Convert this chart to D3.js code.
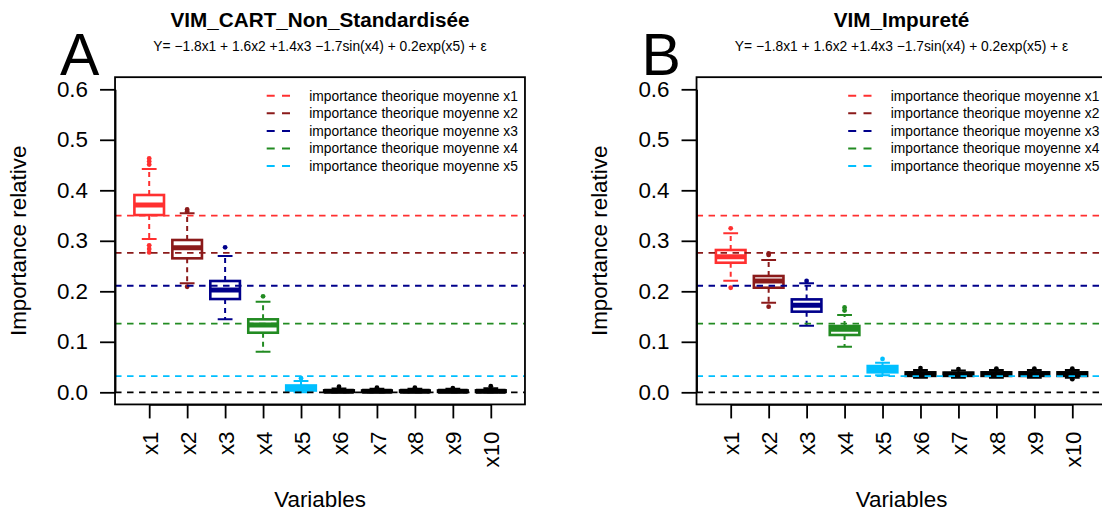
<!DOCTYPE html>
<html>
<head>
<meta charset="utf-8">
<script src="https://cdn.jsdelivr.net/npm/d3@7"></script>
<style>
  html, body { margin: 0; padding: 0; background: #fff; }
  svg { display: block; font-family: "Liberation Sans", Arial, Helvetica, sans-serif; }
</style>
</head>
<body>
<svg id="chart" width="1102" height="514"></svg>
<script>
// Variables on the x axis and y-axis tick values
const variables = ["x1", "x2", "x3", "x4", "x5", "x6", "x7", "x8", "x9", "x10"];
const yTicks = [0, 0.1, 0.2, 0.3, 0.4, 0.5, 0.6];

// Theoretical mean importance of x1..x5 (dashed reference lines), plus the zero line
const theoImportance = [0.35, 0.276, 0.211, 0.136, 0.032];
const theoColors = ["#FF3030", "#8B1A1A", "#00008B", "#228B22", "#00BFFF"];
const legendLabels = [
  "importance theorique moyenne x1",
  "importance theorique moyenne x2",
  "importance theorique moyenne x3",
  "importance theorique moyenne x4",
  "importance theorique moyenne x5"
];
// Box colours per variable (noise variables x6..x10 in black)
const boxColors = ["#FF3030", "#8B1A1A", "#00008B", "#228B22", "#00BFFF",
                   "#000000", "#000000", "#000000", "#000000", "#000000"];

const modelFormula = "Y= \u22121.8x1 + 1.6x2 +1.4x3 \u22121.7sin(x4) + 0.2exp(x5) + \u03b5";

// Panel A : VIM CART, non standardised
const cartLow  = [0.3036, 0.2158, 0.1445, 0.0805, 0.0000, 0.0000, 0.0000, 0.0000, 0.0000, 0.0000];
const cartQ1   = [0.3510, 0.2653, 0.1847, 0.1180, 0.0035, 0.0008, 0.0008, 0.0008, 0.0008, 0.0008];
const cartMed  = [0.3710, 0.2864, 0.2026, 0.1333, 0.0085, 0.0020, 0.0020, 0.0020, 0.0020, 0.0020];
const cartQ3   = [0.3907, 0.3016, 0.2204, 0.1445, 0.0135, 0.0038, 0.0036, 0.0036, 0.0036, 0.0038];
const cartHigh = [0.4420, 0.3545, 0.2700, 0.1795, 0.0224, 0.0075, 0.0072, 0.0072, 0.0070, 0.0078];
const cartOut  = [[0.463, 0.457, 0.451, 0.291, 0.284, 0.277], [0.362, 0.358, 0.209], [0.287], [0.190],
                  [0.028], [0.011], [0.009], [0.009], [0.008], [0.012]];

// Panel B : VIM impurity
const impLow  = [0.2210, 0.1775, 0.1320, 0.0903, 0.0337, 0.0290, 0.0290, 0.0290, 0.0290, 0.0290];
const impQ1   = [0.2566, 0.2071, 0.1597, 0.1135, 0.0396, 0.0325, 0.0325, 0.0325, 0.0325, 0.0325];
const impMed  = [0.2686, 0.2204, 0.1723, 0.1248, 0.0455, 0.0360, 0.0355, 0.0360, 0.0360, 0.0360];
const impQ3   = [0.2818, 0.2303, 0.1840, 0.1313, 0.0520, 0.0395, 0.0390, 0.0395, 0.0395, 0.0395];
const impHigh = [0.3148, 0.2620, 0.2158, 0.1530, 0.0587, 0.0440, 0.0430, 0.0440, 0.0440, 0.0440];
const impOut  = [[0.3247, 0.207], [0.275, 0.272, 0.1695], [0.2204], [0.168, 0.162],
                 [0.066], [0.048], [0.046], [0.047], [0.047], [0.047, 0.026]];

const svg = d3.select("#chart");
const AXIS_FONT = 22.4;

function drawPanel(offsetX, letter, title, stats) {
  const g = svg.append("g").attr("transform", `translate(${offsetX},0)`);

  // scales: categories spaced evenly, plot region padded 0.9 step beyond first/last
  const x = d3.scalePoint().domain(variables).range([149.2, 490.8]);
  const step = x.step();
  const left = x(variables[0]) - 0.9 * step;
  const right = x(variables[variables.length - 1]) + 0.9 * step;
  const y = d3.scaleLinear().domain([0, 0.6]).range([392.3, 89.3]);
  const top = y(0.624), bottom = y(-0.024);

  const clipId = "clip" + letter;
  g.append("clipPath").attr("id", clipId)
    .append("rect").attr("x", left).attr("y", top).attr("width", right - left).attr("height", bottom - top);

  // box plots
  const boxW = 0.78 * step;
  const capW = 0.5 * boxW;
  const plot = g.append("g").attr("clip-path", `url(#${clipId})`);
  variables.forEach((v, i) => {
    const cx = x(v), col = boxColors[i];
    const bg = plot.append("g");
    // whiskers (dashed)
    bg.append("line").attr("x1", cx).attr("x2", cx).attr("y1", y(stats.q3[i])).attr("y2", y(stats.high[i]))
      .attr("stroke", col).attr("stroke-width", 2).attr("stroke-dasharray", "5,4");
    bg.append("line").attr("x1", cx).attr("x2", cx).attr("y1", y(stats.q1[i])).attr("y2", y(stats.low[i]))
      .attr("stroke", col).attr("stroke-width", 2).attr("stroke-dasharray", "5,4");
    // staples
    [stats.high[i], stats.low[i]].forEach(val => {
      bg.append("line").attr("x1", cx - capW / 2).attr("x2", cx + capW / 2).attr("y1", y(val)).attr("y2", y(val))
        .attr("stroke", col).attr("stroke-width", 2);
    });
    // box
    bg.append("rect").attr("x", cx - boxW / 2).attr("width", boxW)
      .attr("y", y(stats.q3[i])).attr("height", Math.max(0.5, y(stats.q1[i]) - y(stats.q3[i])))
      .attr("fill", "#fff").attr("stroke", col).attr("stroke-width", 2.6);
    // median
    bg.append("line").attr("x1", cx - boxW / 2).attr("x2", cx + boxW / 2)
      .attr("y1", y(stats.med[i])).attr("y2", y(stats.med[i]))
      .attr("stroke", col).attr("stroke-width", 5);
    // outliers
    bg.selectAll("circle.out").data(stats.out[i]).join("circle").attr("class", "out")
      .attr("cx", cx).attr("cy", d => y(d)).attr("r", 2.4).attr("fill", col);
  });

  // theoretical importance reference lines + zero line
  const refs = theoImportance.map((v, i) => ({ v, c: theoColors[i] })).concat([{ v: 0, c: "#000" }]);
  plot.selectAll("line.ref").data(refs).join("line").attr("class", "ref")
    .attr("x1", left).attr("x2", right).attr("y1", d => y(d.v)).attr("y2", d => y(d.v))
    .attr("stroke", d => d.c).attr("stroke-width", 1.8).attr("stroke-dasharray", "6.5,5.5");

  // frame
  g.append("rect").attr("x", left).attr("y", top).attr("width", right - left).attr("height", bottom - top)
    .attr("fill", "none").attr("stroke", "#000").attr("stroke-width", 1.8);

  // y axis
  const yAxis = d3.axisLeft(y).tickValues(yTicks).tickFormat(d3.format(".1f"))
    .tickSize(15).tickPadding(12).tickSizeOuter(0);
  const ya = g.append("g").attr("transform", `translate(${left},0)`).call(yAxis);
  ya.select(".domain").attr("stroke-width", 1.8);
  ya.selectAll(".tick line").attr("stroke-width", 1.8);
  ya.selectAll(".tick text").attr("font-size", AXIS_FONT).attr("font-family", null).attr("fill", "#000");

  // x axis
  const xAxis = d3.axisBottom(x).tickSize(14).tickPadding(13).tickSizeOuter(0);
  const xa = g.append("g").attr("transform", `translate(0,${bottom})`).call(xAxis);
  xa.select(".domain").attr("stroke-width", 1.8);
  xa.selectAll(".tick line").attr("stroke-width", 1.8);
  xa.selectAll(".tick text").attr("font-size", AXIS_FONT).attr("font-family", null).attr("fill", "#000")
    .attr("transform", "rotate(-90)").attr("text-anchor", "end")
    .attr("x", -27).attr("y", 0).attr("dy", "0.36em");

  // axis titles
  g.append("text").attr("x", (left + right) / 2).attr("y", 507).attr("text-anchor", "middle")
    .attr("font-size", AXIS_FONT).text("Variables");
  g.append("text").attr("transform", `translate(25.5,${(top + bottom) / 2}) rotate(-90)`)
    .attr("text-anchor", "middle").attr("font-size", AXIS_FONT).text("Importance relative");

  // titles
  g.append("text").attr("x", (left + right) / 2).attr("y", 27).attr("text-anchor", "middle")
    .attr("font-size", 20.7).attr("font-weight", "bold").text(title);
  g.append("text").attr("x", (left + right) / 2).attr("y", 51).attr("text-anchor", "middle")
    .attr("font-size", 13.8).text(modelFormula);
  g.append("text").attr("x", 60).attr("y", 75).attr("font-size", 59).text(letter);

  // legend
  const lg = g.append("g");
  const rows = lg.selectAll("g").data(legendLabels).join("g")
    .attr("transform", (d, i) => `translate(0,${95.7 + i * 17.6})`);
  rows.append("line").attr("x1", 266.7).attr("x2", 290).attr("y1", 0).attr("y2", 0)
    .attr("stroke", (d, i) => theoColors[i]).attr("stroke-width", 2).attr("stroke-dasharray", "8,7.3");
  rows.append("text").attr("x", 309.3).attr("y", 0).attr("dy", "0.35em")
    .attr("font-size", 13.8).text(d => d);
}

drawPanel(0, "A", "VIM_CART_Non_Standardis\u00e9e",
  { low: cartLow, q1: cartQ1, med: cartMed, q3: cartQ3, high: cartHigh, out: cartOut });
drawPanel(581.5, "B", "VIM_Impuret\u00e9",
  { low: impLow, q1: impQ1, med: impMed, q3: impQ3, high: impHigh, out: impOut });
</script>
</body>
</html>
